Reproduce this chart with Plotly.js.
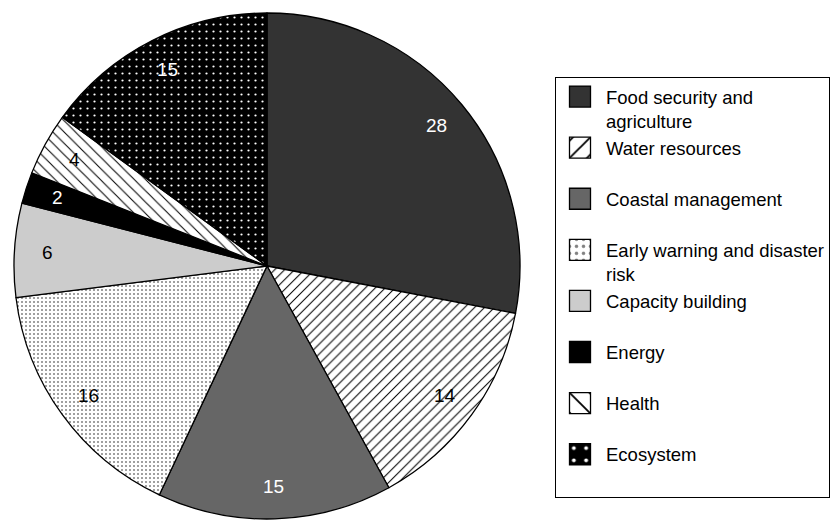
<!DOCTYPE html>
<html>
<head>
<meta charset="utf-8">
<script src="https://cdn.plot.ly/plotly-3.0.1.min.js"></script>
<style>
  html, body { margin: 0; padding: 0; background: #ffffff; }
  #chart { width: 839px; height: 521px; }
  /* larger legend swatches */
  #chart path.legendpie {
    transform-box: fill-box;
    transform-origin: center;
    transform: translate(24px, 0) scale(1.75);
    vector-effect: non-scaling-stroke;
  }
</style>
</head>
<body>
<div id="chart"></div>
<script>
// Adaptation project categories and their counts
const categories = [
  'Food security and<br>agriculture',
  'Water resources',
  'Coastal management',
  'Early warning and disaster<br>risk',
  'Capacity building',
  'Energy',
  'Health',
  'Ecosystem'
];
const counts = [28, 14, 15, 16, 6, 2, 4, 15];

// Monochrome fills and hatch patterns, one per category
const fillColors   = ['#333333', '#ffffff', '#666666', '#ffffff', '#cccccc', '#000000', '#ffffff', '#000000'];
const patternShape = ['', '/', '', '.', '', '', '\\', '.'];
const patternFg    = ['#000000', '#000000', '#000000', '#808080', '#000000', '#000000', '#000000', '#ffffff'];
const patternSize  = [8, 7, 8, 4, 8, 8, 8, 7];
const patternSolid = [0.2, 0.15, 0.2, 0.2, 0.2, 0.2, 0.13, 0.08];
const labelColors  = ['#ffffff', '#000000', '#ffffff', '#000000', '#000000', '#ffffff', '#000000', '#ffffff'];

const W = 839, H = 521;
// Pie area in pixels (left, right, top, bottom)
const pieBox = { l: 12, r: 522, t: 13, b: 519 };
const FONT = 'Liberation Sans, Arial, Helvetica, sans-serif';

// Single-line legend entries get a blank second line so every entry
// occupies a similar height in the legend.
const legendNames = categories.map(c => c.indexOf('<br>') >= 0 ? c : c + '<br> ');

const trace = {
  type: 'pie',
  labels: legendNames,
  values: counts,
  sort: false,
  direction: 'clockwise',
  rotation: 0,
  textinfo: 'none',
  hoverinfo: 'label+value',
  marker: {
    colors: fillColors,
    line: { color: '#000000', width: 1.3 },
    pattern: {
      shape: patternShape,
      fgcolor: patternFg,
      bgcolor: fillColors,
      fillmode: 'replace',
      size: patternSize,
      solidity: patternSolid
    }
  },
  domain: { x: [pieBox.l / W, pieBox.r / W], y: [1 - pieBox.b / H, 1 - pieBox.t / H] }
};

// Value labels placed along each slice's mid-angle, near the rim
const cx = (pieBox.l + pieBox.r) / 2;
const cy = (pieBox.t + pieBox.b) / 2;
const radius = Math.min(pieBox.r - pieBox.l, pieBox.b - pieBox.t) / 2;
const labelRadius = 0.87 * radius;
const total = counts.reduce((a, b) => a + b, 0);
let cum = 0;
const annotations = counts.map((v, i) => {
  const mid = (cum + v / 2) / total * 2 * Math.PI;
  cum += v;
  const px = cx + labelRadius * Math.sin(mid);
  const py = cy - labelRadius * Math.cos(mid);
  return {
    xref: 'paper', yref: 'paper',
    x: px / W, y: 1 - py / H,
    xanchor: 'center', yanchor: 'middle',
    text: String(v),
    showarrow: false,
    font: { family: FONT, size: 19, color: labelColors[i] }
  };
});

const layout = {
  width: W,
  height: H,
  margin: { l: 0, r: 0, t: 0, b: 0 },
  paper_bgcolor: '#ffffff',
  plot_bgcolor: '#ffffff',
  font: { family: FONT, size: 18.5, color: '#000000' },
  showlegend: true,
  annotations: annotations,
  legend: {
    x: 555 / W,
    xanchor: 'left',
    y: 1 - 77 / H,
    yanchor: 'top',
    bordercolor: '#000000',
    borderwidth: 1,
    bgcolor: '#ffffff',
    font: { family: FONT, size: 18.5, color: '#000000' },
    itemwidth: 40,
    traceorder: 'normal',
    valign: 'top'
  }
};

Plotly.newPlot('chart', [trace], layout, { staticPlot: true, displayModeBar: false });
</script>
</body>
</html>
